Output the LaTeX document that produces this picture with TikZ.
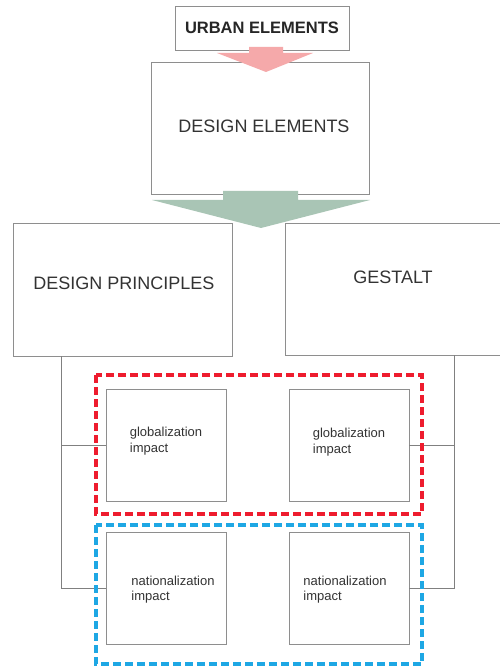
\documentclass[tikz,border=0pt]{standalone}
\usepackage{fontspec}
\setmainfont{Liberation Sans}
\usetikzlibrary{positioning}
\definecolor{boxgrey}{HTML}{8E8E8E}
\definecolor{textgrey}{HTML}{333333}
\definecolor{pinkarrow}{HTML}{F5A9AA}
\definecolor{greenarrow}{HTML}{A9C5B5}
\definecolor{globred}{HTML}{EE1C2E}
\definecolor{natblue}{HTML}{1EA7E4}

\begin{document}
\begin{tikzpicture}[x=1pt,y=-1pt,
		box/.style={draw=boxgrey,line width=0.9pt,fill=white,inner sep=0pt,text=textgrey},
		bigtext/.style={font=\fontsize{18}{20}\selectfont,text=textgrey},
		smalltext/.style={font=\fontsize{13}{15.5}\selectfont,align=left,text=textgrey},
		link/.style={draw=boxgrey!90!black,line width=0.8pt},
		globframe/.style={draw=globred,line width=3.2pt,dash pattern=on 8pt off 4pt},
		natframe/.style={draw=natblue,line width=3.2pt,dash pattern=on 8pt off 4pt}]
		\useasboundingbox (0,0) rectangle (499,668);
		% top boxes
		\node[box,minimum width=174pt,minimum height=44pt,font=\bfseries\fontsize{16.5}{18}\selectfont,text=black!85] (urban) at (262,28) {URBAN ELEMENTS};
		\node[box,minimum width=218pt,minimum height=132pt,label={[bigtext,xshift=4pt,yshift=2pt]center:DESIGN ELEMENTS}] (design) at (260,128) {};
		\node[box,minimum width=219pt,minimum height=133pt,label={[bigtext,xshift=1.5pt,yshift=6.5pt]center:DESIGN PRINCIPLES}] (principles) at (122.5,289.5) {};
		\node[box,minimum width=218pt,minimum height=132pt,label={[bigtext,xshift=-1pt,yshift=12pt]center:GESTALT}] (gestalt) at (394,289) {};
		
		% connectors
		\coordinate (principlesfoot) at (61,356);
		\coordinate (gestaltfoot) at (454,355);
		\node[box,minimum width=120pt,minimum height=112pt,label={[smalltext,yshift=4pt]center:globalization\\impact}] (glob1) at (166,445) {};
		\node[box,minimum width=120pt,minimum height=112pt,label={[smalltext,yshift=3pt]center:globalization\\impact}] (glob2) at (349,445) {};
		\node[box,minimum width=120pt,minimum height=112pt,label={[smalltext,xshift=7pt,yshift=-1.5pt]center:nationalization\\impact}] (nat1) at (166,588) {};
		\node[box,minimum width=120pt,minimum height=112pt,label={[smalltext,xshift=-4pt,yshift=-1.5pt]center:nationalization\\impact}] (nat2) at (349,588) {};
		\draw[link] (principlesfoot) |- (glob1.west);
		\draw[link] (principlesfoot) |- (nat1.west);
		\draw[link] (gestaltfoot) |- (glob2.east);
		\draw[link] (gestaltfoot) |- (nat2.east);
		
		% dashed groups
		\draw[globframe] (96,375) rectangle (422,514);
		\draw[natframe] (96,525) rectangle (422,664);
		
		% block arrows
		\fill[pinkarrow] (249,47) -- (283,47) -- (283,53) -- (313,53) -- (266,72) -- (217,53) -- (249,53) -- cycle;
		\fill[greenarrow] (223,191) -- (298,191) -- (298,200) -- (370,200) -- (261,228) -- (152,200) -- (223,200) -- cycle;
	\end{tikzpicture}
\end{document}
